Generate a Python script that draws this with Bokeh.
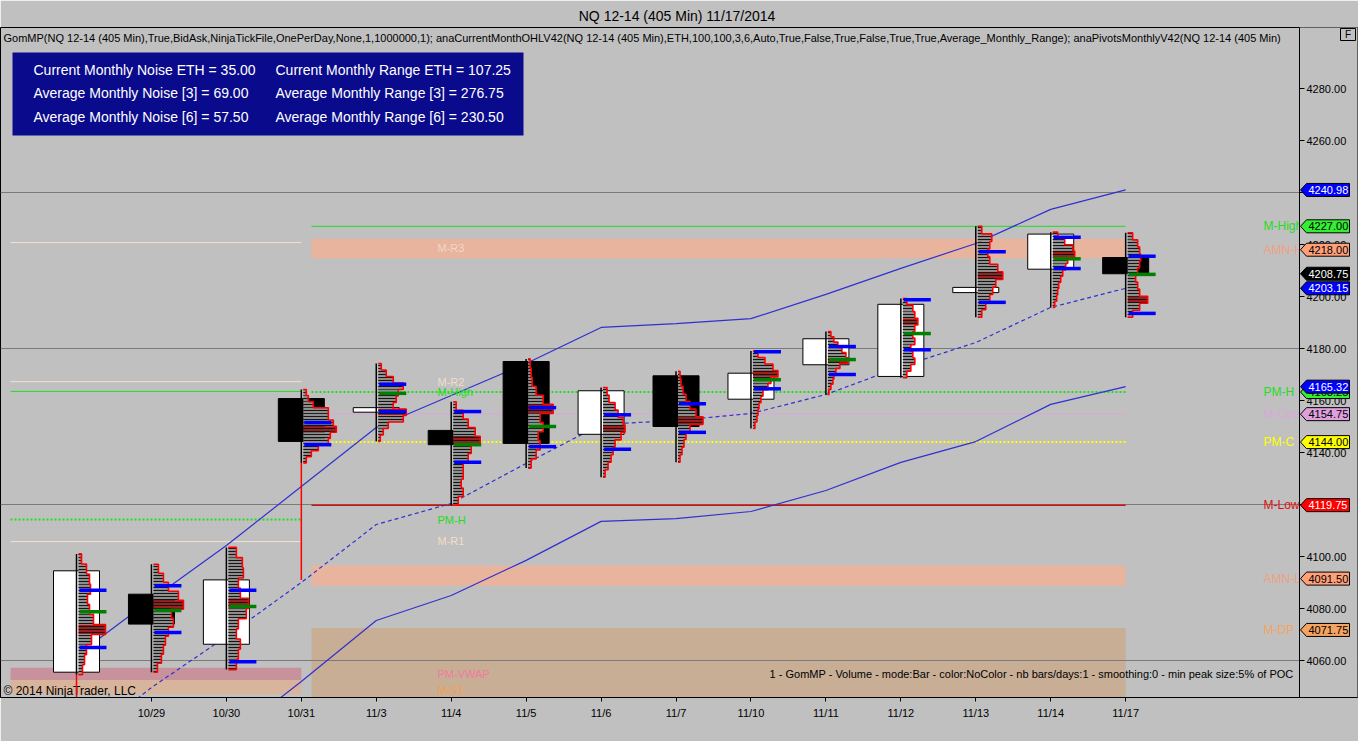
from bokeh.plotting import figure
from bokeh.models import Range1d, FixedTicker, ColumnDataSource
from bokeh.core.properties import value
from bokeh.embed import file_html
from bokeh.resources import INLINE

# ---------------- data ----------------
dates = ["10/28", "10/29", "10/30", "10/31", "11/3", "11/4", "11/5", "11/6",
         "11/7", "11/10", "11/11", "11/12", "11/13", "11/14", "11/17"]
opens = [4055.5, 4085.5, 4066.25, 4160.75, 4155.5, 4148.5, 4175.0, 4147.0,
         4169.5, 4160.5, 4173.75, 4169.25, 4201.5, 4210.5, 4215.0]
highs = [4101.0, 4097.0, 4103.5, 4164.25, 4174.25, 4159.5, 4176.0, 4165.0,
         4171.25, 4179.0, 4186.5, 4199.25, 4227.0, 4224.75, 4224.5]
lows = [4040.0, 4055.5, 4056.5, 4091.0, 4144.25, 4119.75, 4134.0, 4130.5,
        4136.25, 4149.25, 4162.25, 4168.75, 4192.0, 4195.75, 4192.0]
closes = [4094.5, 4074.0, 4091.0, 4144.25, 4157.25, 4143.0, 4143.5, 4163.75,
          4150.0, 4170.5, 4183.75, 4197.0, 4203.5, 4224.0, 4208.75]
profile_low = [4054.5, 4055.5, 4056.5, 4136.0, 4144.25, 4119.75, 4134.0, 4130.5,
               4136.25, 4149.25, 4162.25, 4168.75, 4192.0, 4195.75, 4192.0]
# relative volume per price row, from the bar's high down to its profile low
profiles = [
    [3, 8, 11, 12, 9, 11, 15, 27, 13, 8, 6, 4],
    [5, 10, 15, 25, 30, 18, 20, 15, 12, 10, 8, 4],
    [8, 14, 15, 10, 12, 20, 18, 10, 8, 12, 10, 8],
    [3, 5, 10, 25, 25, 30, 33, 27, 25, 15, 8, 3],
    [3, 8, 15, 25, 20, 18, 15, 28, 25, 10, 5, 2],
    [3, 10, 15, 22, 27, 18, 15, 10, 10, 8, 10, 5],
    [2, 3, 4, 8, 15, 25, 12, 15, 10, 12, 8, 3],
    [4, 6, 12, 15, 20, 22, 18, 12, 10, 8, 5, 2],
    [2, 3, 5, 8, 12, 18, 25, 12, 8, 6, 4, 2],
    [5, 12, 20, 25, 18, 15, 10, 8, 6, 5, 4, 2],
    [3, 6, 10, 14, 18, 20, 12, 8, 6, 5, 3, 1],
    [4, 10, 12, 15, 12, 10, 12, 8, 10, 12, 8, 4],
    [4, 14, 12, 10, 12, 20, 25, 18, 15, 12, 8, 4],
    [5, 12, 20, 22, 15, 13, 10, 8, 6, 5, 4, 2],
    [5, 10, 12, 13, 12, 10, 8, 10, 12, 20, 12, 5],
]
va_high = [4087.0, 4088.75, 4087.0, 4151.5, 4166.25, 4155.75, 4157.25, 4154.5,
           4158.75, 4178.75, 4180.75, 4198.75, 4217.25, 4222.75, 4215.5]
va_low = [4065.0, 4070.75, 4059.5, 4143.0, 4155.75, 4136.25, 4142.25, 4141.25,
          4147.75, 4164.5, 4170.0, 4179.5, 4197.75, 4210.75, 4193.5]
poc = [4078.75, 4079.25, 4080.75, None, 4162.75, 4143.0, 4150.0, None,
       None, 4168.0, 4175.75, 4185.75, None, 4214.5, 4208.5]

upper_band = [4061.9, 4083.5, 4104.2, 4126.9, 4149.6, 4161.9, 4174.2, 4188.1,
              4189.6, 4191.5, 4200.8, 4210.8, 4220.4, 4233.5, 4240.98]
mid_band = [4027.0, 4049.6, 4069.2, 4090.0, 4112.3, 4120.4, 4135.8, 4150.8,
            4152.3, 4155.0, 4162.3, 4173.0, 4182.3, 4195.8, 4203.15]
lower_band = [3987.0, 4008.5, 4029.5, 4051.9, 4075.4, 4085.0, 4098.5, 4113.5,
              4114.6, 4117.3, 4125.4, 4136.2, 4144.2, 4158.5, 4165.32]

# current month levels
level_values = [4227.00, 4163.25, 4154.75, 4144.00, 4119.75]
level_colors = ["#22dd22", "#22dd22", "#d8a8d8", "#ffff00", "#cc1111"]
level_dash = ["solid", "2 2", "solid", "2 2", "solid"]
level_width = [1, 2, 1, 2, 1.5]

zone_tops = [4222.25, 4096.5, 4072.5]
zone_bottoms = [4214.75, 4088.75, 4030.0]
zone_colors = ["#e8b49e", "#e8b49e", "#c9ae96"]

# previous month levels
prev_values = [4220.75, 4167.25, 4163.5, 4114.25, 4105.75]
prev_colors = ["#f2e2cc", "#f2e2cc", "#22dd22", "#22dd22", "#f2e2cc"]
prev_dash = ["solid", "solid", "solid", "2 2", "solid"]
prev_width = [1, 1, 1, 2, 1]
prev_zone_tops = [4057.25, 4052.5]
prev_zone_bottoms = [4052.5, 4047.0]
prev_zone_colors = ["#c8929c", "#d9b49c"]

mid_labels = ["M-R3", "M-R2", "M-High", "PM-H", "M-R1", "PM-VWAP", "M-S1"]
mid_label_values = [4218.6, 4167.3, 4163.4, 4114.2, 4105.8, 4055.0, 4048.5]
mid_label_colors = ["#f2d6c6", "#f2dcc8", "#22dd22", "#22dd22", "#f2dcc8", "#f07aa0", "#f0a050"]

right_labels = ["M-High", "AMN-H", "PM-H", "M-Open", "PM-C", "M-Low", "AMN-L", "M-DP"]
right_label_values = [4227.0, 4218.0, 4163.25, 4154.75, 4144.0, 4119.75, 4091.5, 4071.75]
right_label_colors = ["#22dd22", "#f0a080", "#22dd22", "#d8a8d8", "#ffff00", "#dd1111", "#f0a080", "#f4a460"]

marker_values = [4240.98, 4227.00, 4218.00, 4208.75, 4203.15, 4163.25, 4165.32,
                 4154.75, 4144.00, 4119.75, 4091.50, 4071.75]
marker_bg = ["#0000ff", "#33ee33", "#ffa07a", "#000000", "#0000ff", "#33ee33", "#0000ff",
             "#dda0dd", "#ffff00", "#ff0000", "#ffa07a", "#f4a460"]
marker_fg = ["white", "black", "black", "white", "white", "black", "white",
             "black", "black", "white", "black", "black"]

y_ticks = [4060, 4080, 4100, 4120, 4140, 4160, 4180, 4200, 4220, 4240, 4260, 4280]
grid_values = [4060, 4120, 4180, 4240]

info_left = ["Current Monthly Noise ETH = 35.00", "Average Monthly Noise [3] = 69.00",
             "Average Monthly Noise [6] = 57.50"]
info_right = ["Current Monthly Range ETH = 107.25", "Average Monthly Range [3] = 276.75",
              "Average Monthly Range [6] = 230.50"]

title_text = "NQ 12-14 (405 Min)  11/17/2014"
indicator_text = ("GomMP(NQ 12-14 (405 Min),True,BidAsk,NinjaTickFile,OnePerDay,None,1,1000000,1); "
                  "anaCurrentMonthOHLV42(NQ 12-14 (405 Min),ETH,100,100,3,6,Auto,True,False,True,False,"
                  "True,True,Average_Monthly_Range); anaPivotsMonthlyV42(NQ 12-14 (405 Min)")
footer_text = ("1 - GomMP - Volume - mode:Bar - color:NoColor - nb bars/days:1 - smoothing:0 - "
               "min peak size:5% of POC")
copyright_text = "\u00a9 2014 NinjaTrader, LLC"

# ---------------- layout helpers (reference-pixel -> data positions) ----------------
PXU = 74.94     # pixels per bar
PXP = 2.6       # pixels per point


def px2x(px):
    return (px - 76.0) / PXU


def py2y(py):
    return 4280.0 - (py - 88.0) / PXP


FONT = "Liberation Sans"
n = len(dates)
xs = list(range(n))

p = figure(width=1358, height=741, output_backend="svg", toolbar_location=None,
           x_range=Range1d(px2x(0), px2x(1357)), y_range=Range1d(py2y(697), py2y(27)),
           y_axis_location=None, min_border_left=0, min_border_right=1,
           min_border_top=27, min_border_bottom=44)
p.background_fill_color = "#c0c0c0"
p.border_fill_color = "#c0c0c0"
p.outline_line_color = "black"
p.xgrid.visible = False
p.ygrid.visible = False
p.title.text = title_text
p.title.align = "center"
p.title.text_font = FONT
p.title.text_font_size = "14px"
p.title.text_font_style = "normal"
p.title.text_color = "black"
p.title.standoff = 8

p.xaxis.ticker = FixedTicker(ticks=xs[1:])
p.xaxis.major_label_overrides = {i: dates[i] for i in xs[1:]}
p.xaxis.major_tick_out = 4
p.xaxis.major_tick_in = 0
p.xaxis.minor_tick_out = 0
p.xaxis.minor_tick_in = 0
p.xaxis.major_label_standoff = 5
p.xaxis.major_label_text_font = FONT
p.xaxis.major_label_text_font_size = "11px"
p.xaxis.major_label_text_color = "#000000"
p.xaxis.axis_line_color = "black"

month_start = px2x(311)
prev_start = px2x(10)
prev_end = 3.0
last_x = xs[-1]
axis_x = px2x(1299)
y_bot = py2y(697)
y_top = py2y(27)

# previous month bands
p.quad(left=prev_start, right=prev_end, top=prev_zone_tops, bottom=prev_zone_bottoms,
       fill_color=prev_zone_colors, line_color=None)
# current month zones
p.quad(left=month_start, right=last_x, top=zone_tops, bottom=zone_bottoms,
       fill_color=zone_colors, line_color=None)

# grid lines
p.hspan(y=grid_values, line_color="#7a7a7a", line_width=1)

# previous month level lines
for v, c, d, w in zip(prev_values, prev_colors, prev_dash, prev_width):
    p.line([prev_start, prev_end], [v, v], line_color=c, line_dash=d, line_width=w)
# current month level lines
for v, c, d, w in zip(level_values, level_colors, level_dash, level_width):
    p.line([month_start, last_x], [v, v], line_color=c, line_dash=d, line_width=w)

# envelope lines
p.line(xs, upper_band, line_color="#3030d0", line_width=1.2)
p.line(xs, lower_band, line_color="#3030d0", line_width=1.2)
p.line(xs, mid_band, line_color="#3030d0", line_width=1.2, line_dash="4 3")

# info box
p.quad(left=px2x(12), right=px2x(523), top=py2y(52), bottom=py2y(135),
       fill_color="#0a0a8c", line_color=None)
row_y = [py2y(69), py2y(92), py2y(116)]
p.text(x=[px2x(33)] * 3, y=row_y, text=info_left, text_font=value(FONT),
       text_font_size="14px", text_color="white", text_baseline="middle")
p.text(x=[px2x(275)] * 3, y=row_y, text=info_right, text_font=value(FONT),
       text_font_size="14px", text_color="white", text_baseline="middle")

# indicator line, copyright, footer
p.text(x=[px2x(3)], y=[py2y(37)], text=[indicator_text], text_font=value(FONT),
       text_font_size="11px", text_color="black", text_baseline="middle")
p.text(x=[px2x(3)], y=[py2y(690)], text=[copyright_text], text_font=value(FONT),
       text_font_size="12px", text_color="black", text_baseline="middle")
p.text(x=[px2x(1293)], y=[py2y(673)], text=[footer_text], text_font=value(FONT),
       text_font_size="11px", text_color="black", text_baseline="middle", text_align="right")

# candle bodies
body_top = [max(o, c) for o, c in zip(opens, closes)]
body_bot = [min(o, c) for o, c in zip(opens, closes)]
body_col = ["white" if c > o else "black" for o, c in zip(opens, closes)]
p.vbar(x=xs, width=46 / PXU, top=body_top, bottom=body_bot, fill_color=body_col,
       line_color="black", line_width=1)
# wicks (black over the profiled range, red where no volume traded)
p.segment(x0=xs, y0=profile_low, x1=xs, y1=highs, line_color="black", line_width=1.5)
p.segment(x0=xs, y0=lows, x1=xs, y1=profile_low, line_color="#ff0000", line_width=1.5)

# volume profiles
rows = dict(y=[], h=[], l=[], r=[], fc=[])
ol_x, ol_y = [], []
base_off = 2 / PXU
for i in xs:
    vols = profiles[i]
    top = highs[i]
    step = (highs[i] - profile_low[i]) / len(vols)
    peak = vols.index(max(vols))
    lx = i + base_off
    ox, oy = [lx], [top]
    for k, v in enumerate(vols):
        yt = top - k * step
        yb = yt - step
        rows["y"].append((yt + yb) / 2)
        rows["h"].append(step)
        rows["l"].append(lx)
        rows["r"].append(lx + v / PXU)
        rows["fc"].append("#9a2020" if k == peak else "#8e8e8e")
        ox += [lx + v / PXU, lx + v / PXU]
        oy += [yt, yb]
    ox.append(lx)
    oy.append(profile_low[i])
    ol_x.append(ox)
    ol_y.append(oy)

p.hbar(y="y", height="h", left="l", right="r", fill_color="fc", line_color=None,
       hatch_pattern="horizontal_line", hatch_color="#151515", hatch_scale=3,
       hatch_weight=1, source=ColumnDataSource(rows))
p.multi_line(ol_x, ol_y, line_color="#ff0000", line_width=1.6)

# value area and POC ticks
t0 = [i + 3 / PXU for i in xs]
t1 = [i + 30 / PXU for i in xs]
p.segment(x0=t0, y0=va_high, x1=t1, y1=va_high, line_color="#0000ff", line_width=3.5)
p.segment(x0=t0, y0=va_low, x1=t1, y1=va_low, line_color="#0000ff", line_width=3.5)
poc_x0 = [a for a, v in zip(t0, poc) if v is not None]
poc_x1 = [a for a, v in zip(t1, poc) if v is not None]
poc_y = [v for v in poc if v is not None]
p.segment(x0=poc_x0, y0=poc_y, x1=poc_x1, y1=poc_y, line_color="#008000", line_width=3.5)

# level labels
p.text(x=[px2x(437)] * len(mid_labels), y=mid_label_values, text=mid_labels,
       text_font=value(FONT), text_font_size="11px", text_color=mid_label_colors,
       text_baseline="middle")
p.text(x=[px2x(1263)] * len(right_labels), y=right_label_values, text=right_labels,
       text_font=value(FONT), text_font_size="12px", text_color=right_label_colors,
       text_baseline="middle")

# price scale panel (right of the price axis)
p.quad(left=[axis_x], right=[px2x(1360)], top=[y_top + 5], bottom=[y_bot - 5],
       fill_color="#c0c0c0", line_color=None)
p.segment(x0=[axis_x], y0=[y_bot], x1=[axis_x], y1=[y_top], line_color="black", line_width=1)
p.segment(x0=[axis_x] * len(y_ticks), y0=y_ticks, x1=[px2x(1304)] * len(y_ticks), y1=y_ticks,
          line_color="black", line_width=1)
p.text(x=[px2x(1306)] * len(y_ticks), y=y_ticks, text=["%.2f" % t for t in y_ticks],
       text_font=value(FONT), text_font_size="11px", text_color="black",
       text_baseline="middle")

# price markers
half = 6.5 / PXP
for v, bg, fg in zip(marker_values, marker_bg, marker_fg):
    px_ = [px2x(1300), px2x(1306), px2x(1349), px2x(1349), px2x(1306)]
    py_ = [v, v + half, v + half, v - half, v - half]
    p.patch(px_, py_, fill_color=bg, line_color="black", line_width=1)
    p.text(x=[px2x(1308)], y=[v], text=["%.2f" % v], text_font=value(FONT),
           text_font_size="11px", text_color=fg, text_baseline="middle")

# corner box
p.quad(left=[px2x(1340)], right=[px2x(1355)], top=[py2y(28)], bottom=[py2y(40)],
       fill_color=None, line_color="black", line_width=1)
p.text(x=[px2x(1347.5)], y=[py2y(34)], text=["F"], text_font=value(FONT),
       text_font_size="10px", text_color="black", text_align="center", text_baseline="middle")

open("out.html", "w").write(file_html(p, INLINE))
